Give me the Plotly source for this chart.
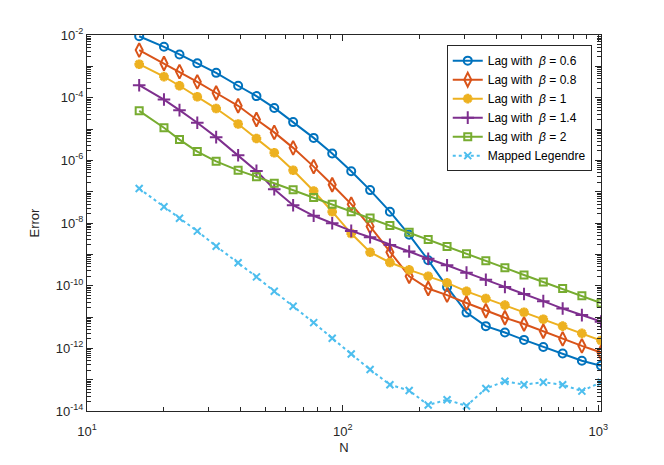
import plotly.graph_objects as go

# N values (2^(4:0.25:10), rounded up)
N = [16, 20, 23, 27, 32, 39, 46, 54, 64, 77, 91, 108, 128, 153, 182, 216,
     256, 305, 363, 431, 512, 609, 725, 862, 1024]

err_b06 = [9.1e-3, 4.2e-3, 2.4e-3, 1.26e-3, 6.2e-4, 2.4e-4, 1.12e-4, 4.7e-5,
           1.66e-5, 5.2e-6, 1.66e-6, 4.5e-7, 1.12e-7, 2.3e-8, 4.2e-9, 6.5e-10,
           9.1e-11, 1.38e-11, 5.1e-12, 3.2e-12, 1.86e-12, 1.10e-12, 6.8e-13,
           4.0e-13, 2.8e-13]
err_b08 = [3.3e-3, 1.23e-3, 6.8e-4, 3.2e-4, 1.41e-4, 5.5e-5, 2.0e-5, 7.8e-6,
           2.5e-6, 6.3e-7, 1.66e-7, 4.0e-8, 7.8e-9, 1.17e-9, 2.0e-10, 8.1e-11,
           5.0e-11, 2.8e-11, 1.58e-11, 9.5e-12, 6.0e-12, 3.5e-12, 2.0e-12,
           1.20e-12, 7.4e-13]
err_b1 = [1.17e-3, 4.7e-4, 2.4e-4, 1.07e-4, 4.5e-5, 1.45e-5, 5.0e-6, 1.74e-6,
          4.8e-7, 1.05e-7, 2.3e-8, 4.6e-9, 1.17e-9, 5.5e-10, 3.2e-10, 2.0e-10,
          1.23e-10, 6.6e-11, 3.9e-11, 2.4e-11, 1.41e-11, 8.5e-12, 5.1e-12,
          3.0e-12, 1.78e-12]
err_b14 = [2.5e-4, 8.7e-5, 4.0e-5, 1.58e-5, 5.5e-6, 1.45e-6, 4.6e-7, 1.20e-7,
           3.7e-8, 1.70e-8, 9.8e-9, 5.6e-9, 3.5e-9, 2.0e-9, 1.23e-9, 7.2e-10,
           4.5e-10, 2.6e-10, 1.55e-10, 9.1e-11, 5.4e-11, 3.2e-11, 1.86e-11,
           1.15e-11, 7.1e-12]
err_b2 = [3.8e-5, 1.10e-5, 4.6e-6, 1.91e-6, 9.3e-7, 4.8e-7, 3.0e-7, 1.86e-7,
          1.15e-7, 6.5e-8, 4.0e-8, 2.3e-8, 1.45e-8, 8.3e-9, 5.1e-9, 3.0e-9,
          1.78e-9, 1.05e-9, 6.2e-10, 3.7e-10, 2.2e-10, 1.32e-10, 8.1e-11,
          4.8e-11, 2.8e-11]
err_leg = [1.26e-7, 3.3e-8, 1.41e-8, 5.5e-9, 1.82e-9, 5.4e-10, 1.91e-10,
           6.6e-11, 2.2e-11, 6.6e-12, 2.1e-12, 6.6e-13, 2.1e-13, 6.9e-14,
           4.5e-14, 1.55e-14, 2.3e-14, 1.45e-14, 5.2e-14, 8.9e-14, 6.9e-14,
           8.3e-14, 6.9e-14, 4.3e-14, 8.3e-14]

sp = "\u00a0\u00a0"
names = ["Lag with" + sp + "<i>β</i> = 0.6", "Lag with" + sp + "<i>β</i> = 0.8",
         "Lag with" + sp + "<i>β</i> = 1", "Lag with" + sp + "<i>β</i> = 1.4",
         "Lag with" + sp + "<i>β</i> = 2", "Mapped Legendre"]

series = [err_b06, err_b08, err_b1, err_b14, err_b2, err_leg]
colors = ["#0072BD", "#D95319", "#EDB120", "#7E2F8E", "#77AC30", "#4DBEEE"]
symbols = ["circle-open", "diamond-tall-open", "asterisk-open",
           "cross-thin-open", "square-open", "x-thin-open"]
sizes = [8, 10, 8, 9, 7, 7]
mlw = [2, 2, 3, 2, 2, 2]

fig = go.Figure()
for name, y, c, s, sz, lw in zip(names, series, colors, symbols, sizes, mlw):
    fig.add_trace(go.Scatter(
        x=N, y=y, name=name, mode="lines+markers",
        line=dict(color=c, width=2, dash="dot" if name.startswith("Mapped") else "solid"),
        marker=dict(symbol=s, size=sz, color=c, line=dict(color=c, width=lw)),
    ))

# invisible trace on overlay axes that only carry the minor tick marks
fig.add_trace(go.Scatter(x=N, y=err_b06, xaxis="x2", yaxis="y2", mode="lines",
                         opacity=0, showlegend=False, hoverinfo="skip"))

axcol = "#262626"
tkw = 1
axis_font = dict(family="Liberation Sans, Arial, sans-serif", size=13, color=axcol)

xmajor = [10, 100, 1000]
xminor = [m * 10 ** d for d in range(1, 3) for m in range(2, 10)]
ymajor = [10.0 ** e for e in range(-14, -1)]
ylabels = ["10<sup>%d</sup>" % e if e % 2 == 0 else "" for e in range(-14, -1)]
yminor = [m * 10.0 ** e for e in range(-14, -2) for m in range(2, 10)]

xr = [1, 3.0103]
yr = [-14, -2]

fig.update_layout(
    xaxis=dict(
        type="log", range=xr,
        tickmode="array", tickvals=xmajor,
        ticktext=["10<sup>1</sup>", "10<sup>2</sup>", "10<sup>3</sup>"],
        ticks="inside", ticklen=6, tickcolor=axcol, tickwidth=tkw,
        ticklabelstandoff=8,
        showline=True, linecolor=axcol, linewidth=1, mirror="allticks",
        showgrid=False, zeroline=False, tickfont=axis_font,
        title=dict(text="N", font=axis_font, standoff=5),
    ),
    yaxis=dict(
        type="log", range=yr,
        tickmode="array", tickvals=ymajor, ticktext=ylabels,
        ticks="inside", ticklen=6, tickcolor=axcol, tickwidth=tkw,
        showline=True, linecolor=axcol, linewidth=1, mirror="allticks",
        showgrid=False, zeroline=False, tickfont=axis_font,
        title=dict(text="Error", font=axis_font, standoff=13),
    ),
    xaxis2=dict(
        type="log", range=xr, overlaying="x", anchor="y", side="bottom",
        tickmode="array", tickvals=xminor, ticks="inside", ticklen=4,
        tickcolor=axcol, tickwidth=tkw, showticklabels=False, mirror="ticks",
        showline=False, showgrid=False, zeroline=False,
    ),
    yaxis2=dict(
        type="log", range=yr, overlaying="y", anchor="x", side="left",
        tickmode="array", tickvals=yminor, ticks="inside", ticklen=4,
        tickcolor=axcol, tickwidth=tkw, showticklabels=False, mirror="ticks",
        showline=False, showgrid=False, zeroline=False,
    ),
)

# page body has an 8px margin, so the figure is 8px smaller than the window
fig.update_layout(
    width=656, height=457,
    margin=dict(l=79, r=63, t=27, b=52),
    paper_bgcolor="white", plot_bgcolor="white",
    font=axis_font,
    showlegend=True,
    legend=dict(
        x=0.982, y=0.973, xanchor="right", yanchor="top",
        bgcolor="white", bordercolor=axcol, borderwidth=1,
        font=dict(family="Liberation Sans, Arial, sans-serif", size=12, color="black"),
        tracegroupgap=0,
    ),
)

fig.write_html("out.html")
